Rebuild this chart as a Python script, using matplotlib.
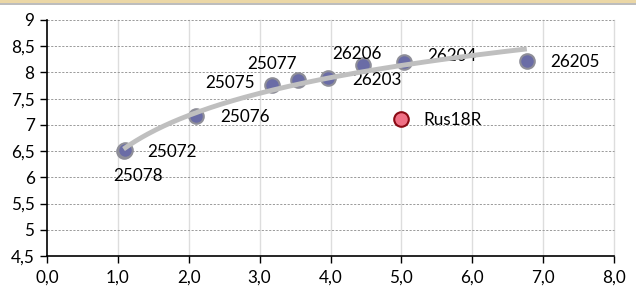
import numpy as np
import matplotlib
matplotlib.use("Agg")
import matplotlib.pyplot as plt
from matplotlib.patches import Rectangle

plt.rcParams['font.family'] = ['Lato', 'DejaVu Sans']

# data
names = ["25078", "25072", "25076", "25077", "25075", "26203", "26206", "26204", "26205"]
xs = [1.08, 1.10, 2.10, 3.17, 3.54, 3.97, 4.46, 5.03, 6.77]
ys = [6.50, 6.53, 7.17, 7.76, 7.86, 7.89, 8.14, 8.19, 8.22]
ref_name = "Rus18R"
ref_x = [4.99]
ref_y = [7.12]
xticks = [0, 1, 2, 3, 4, 5, 6, 7, 8]
yticks = [4.5, 5, 5.5, 6, 6.5, 7, 7.5, 8, 8.5, 9]

# label offsets in pixels (dx, dy up) and horizontal alignment
offsets = {
    "25078": (15, -25, "center"),
    "25072": (22, -2, "left"),
    "25076": (24, -1, "left"),
    "25077": (0, 21, "center"),
    "25075": (-43, -3, "right"),
    "26203": (24, -2, "left"),
    "26206": (-6, 11, "center"),
    "26204": (24, 6, "left"),
    "26205": (23, -1, "left"),
}

FS = 12.3

fig = plt.figure(figsize=(6.36, 2.89), dpi=100)
# top banner
fig.patches.append(Rectangle((0, 1 - 3/289), 1, 3/289, transform=fig.transFigure,
                             facecolor="#EBD7A6", edgecolor="none", zorder=0))
fig.patches.append(Rectangle((0, 1 - 5/289), 1, 2/289, transform=fig.transFigure,
                             facecolor="#BDBDBD", edgecolor="none", zorder=0))

ax = fig.add_axes([47/636, 1 - 256/289, (614-47)/636, (256-20)/289])
ax.set_xlim(0, 8)
ax.set_ylim(4.5, 9)
ax.set_xticks(xticks)
ax.set_xticklabels([f"{v:.1f}".replace(".", ",") for v in xticks])
ax.set_yticks(yticks)
ax.set_yticklabels([(f"{v:g}").replace(".", ",") for v in yticks])
ax.tick_params(axis="both", labelsize=FS, length=5, width=1, colors="black")
ax.tick_params(axis="y", pad=4)
ax.tick_params(axis="x", pad=5)

for s in ["top", "right"]:
    ax.spines[s].set_visible(False)
ax.spines["left"].set_linewidth(1.2)
ax.spines["bottom"].set_linewidth(1.2)

# grids
for v in xticks[1:]:
    ax.axvline(v, color="#DDDDDD", lw=1.0, zorder=0, clip_on=False)
for v in yticks[1:]:
    ax.axhline(v, color="#9A9A9A", lw=0.7, ls=(0, (2.2, 1.6)), zorder=0.5, clip_on=False)

# points
ax.scatter(xs, ys, s=110, facecolor="#6A6CA6", edgecolor="#8E8E98", linewidth=1.5, zorder=3)
ax.scatter(ref_x, ref_y, s=110, facecolor="#F07085", edgecolor="#8B0A14", linewidth=1.5, zorder=3)

# logarithmic trend
b, a = np.polyfit(np.log(xs), ys, 1)
tx = np.linspace(min(xs), max(xs), 200)
ax.plot(tx, a + b * np.log(tx), color="#BFBFBF", lw=3.5, solid_capstyle="butt", zorder=5)

# labels
px = 0.72
for n, x, y in zip(names, xs, ys):
    dx, dy, ha = offsets[n]
    ax.annotate(n, (x, y), xytext=(dx * px, dy * px), textcoords="offset points",
                ha=ha, va="center", fontsize=FS, color="black", zorder=4)
ax.annotate(ref_name, (ref_x[0], ref_y[0]), xytext=(23 * px, -1 * px), textcoords="offset points",
            ha="left", va="center", fontsize=FS, color="black", zorder=4)

fig.savefig("out.png", dpi=100)
